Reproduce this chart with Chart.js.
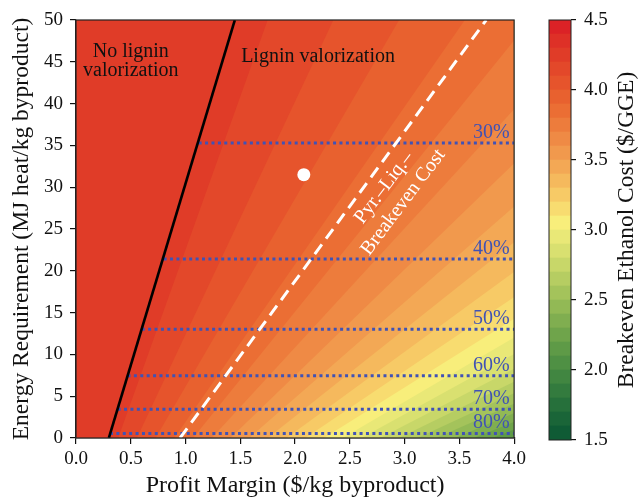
<!DOCTYPE html>
<html><head><meta charset="utf-8">
<script src="https://cdn.jsdelivr.net/npm/chart.js@4.4.1/dist/chart.umd.min.js"></script>
<style>
html,body{margin:0;padding:0;background:#fff;}
#wrap{position:relative;width:639px;height:500px;overflow:hidden;}
#main{position:absolute;left:0;top:0;}
#cbar{position:absolute;left:530px;top:0;}
</style></head><body>
<div id="wrap">
<canvas id="main" width="530" height="500"></canvas>
<canvas id="cbar" width="109" height="500"></canvas>
</div>
<script>
// ---------- data ----------
const xTicks = [0, 0.5, 1, 1.5, 2, 2.5, 3, 3.5, 4];
const xTickLabels = ['0.0','0.5','1.0','1.5','2.0','2.5','3.0','3.5','4.0'];
const yTicks = [0, 5, 10, 15, 20, 25, 30, 35, 40, 45, 50];
const yTickLabels = ['0','5','10','15','20','25','30','35','40','45','50'];
const cbarTicks = [1.5, 2.0, 2.5, 3.0, 3.5, 4.0, 4.5];
const cbarTickLabels = ['1.5','2.0','2.5','3.0','3.5','4.0','4.5'];

// colour levels of the filled contour plot ($/GGE)
const colorLevels = [1.5,1.6,1.7,1.8,1.9,2.0,2.1,2.2,2.3,2.4,2.5,2.6,2.7,2.8,2.9,3.0,3.1,3.2,3.3,3.4,3.5,3.6,3.7,3.8,3.9,4.0,4.1,4.2,4.3,4.4,4.5];
const bandColors = ['#0f5b35','#1a6538','#26703b','#337b3e','#418641','#4f9044','#5e9a47','#6fa44b','#80ae50','#92b955',
                    '#a4c35b','#b6cd62','#c8d769','#d9e070','#e9e877','#f8ee7b','#f8dc70','#f7ca66','#f5b95d','#f3a855',
                    '#f1994d','#ef8a45','#ed7c3c','#eb6e34','#e8612f','#e6542c','#e3482a','#e03c28','#de3027','#db2226'];
// contour lines present in the plot: level and the x where each (straight) line reaches y = 50
const contourLevels = [2.0,2.1,2.2,2.3,2.4,2.5,2.6,2.7,2.8,2.9,3.0,3.1,3.2,3.3,3.4,3.5,3.6,3.7,3.8,3.9,4.0,4.1,4.2];
const contourTopX   = [14.95,14.35,13.75,13.15,12.55,11.95,11.35,10.75,10.15,9.55,8.95,8.35,7.75,7.15,6.55,5.95,5.35,4.75,4.15,3.55,2.95,2.35,1.75];
const contourTopY = 50;
const fanOrigin = [-0.158, -19.9];   // common point of all contour lines (below the axes)

const boundaryX = [0.30, 1.45], boundaryY = [0, 50];    // lignin valorization boundary
const pyrX = [0.95, 3.745], pyrY = [0, 50];              // pyrolysis-liquid breakeven cost
const pctLabels = ['30%','40%','50%','60%','70%','80%'];
const pctY      = [35.3, 21.4, 13.0, 7.45, 3.45, 0.55];
const pctStartX = [1.12, 0.80, 0.60, 0.47, 0.38, 0.31];
const pctEndX   = 4.0;
const refPoint  = [2.08, 31.5];

// ---------- styling ----------
const SERIF = 'Liberation Serif';
const INK = '#111';
const BLUE = '#4052b5';

const datasets = [];
contourLevels.forEach((lv, i) => {
  const band = Math.round((lv - colorLevels[0]) * 10);
  datasets.push({
    data: [{x: fanOrigin[0], y: fanOrigin[1]}, {x: contourTopX[i], y: contourTopY}],
    fill: 'end', backgroundColor: bandColors[band], borderColor: 'rgba(0,0,0,0)', borderWidth: 1,
    pointRadius: 0, order: 1000 - i
  });
});
pctLabels.forEach((lab, i) => {
  datasets.push({
    data: [{x: pctStartX[i], y: pctY[i]}, {x: pctEndX, y: pctY[i]}],
    borderColor: BLUE, borderWidth: 3, borderDash: [3, 3.4], fill: false, pointRadius: 0, order: 20
  });
});
datasets.push({
  data: boundaryX.map((x, i) => ({x, y: boundaryY[i]})),
  borderColor: '#000', borderWidth: 2.6, fill: false, pointRadius: 0, order: 10
});
datasets.push({
  data: pyrX.map((x, i) => ({x, y: pyrY[i]})),
  borderColor: '#fff', borderWidth: 3, borderDash: [12, 7], fill: false, pointRadius: 0, order: 9
});
datasets.push({
  data: [{x: refPoint[0], y: refPoint[1]}],
  showLine: false, pointRadius: 6.5, pointBackgroundColor: '#fff', pointBorderWidth: 0, order: 1
});

const framePlugin = {
  id: 'frame',
  afterDraw(chart) {
    const {ctx, chartArea: a} = chart;
    ctx.save();
    ctx.strokeStyle = '#222'; ctx.lineWidth = 1.2;
    ctx.strokeRect(a.left, a.top, a.right - a.left, a.bottom - a.top);
    ctx.restore();
  }
};

const textPlugin = {
  id: 'texts',
  afterDatasetsDraw(chart) {
    const {ctx, scales: {x, y}} = chart;
    ctx.save();
    ctx.font = '20px "' + SERIF + '"';
    ctx.fillStyle = INK;
    ctx.textAlign = 'center'; ctx.textBaseline = 'alphabetic';
    ctx.fillText('No lignin', x.getPixelForValue(0.5), y.getPixelForValue(45.6));
    ctx.fillText('valorization', x.getPixelForValue(0.5), y.getPixelForValue(43.3));
    ctx.fillText('Lignin valorization', x.getPixelForValue(2.21), y.getPixelForValue(45.0));
    // percent labels
    ctx.fillStyle = BLUE; ctx.textAlign = 'right';
    pctLabels.forEach((lab, i) => {
      ctx.fillText(lab, x.getPixelForValue(3.96), y.getPixelForValue(pctY[i]) - 5);
    });
    // rotated label along dashed line
    ctx.save();
    ctx.translate(x.getPixelForValue(2.9), y.getPixelForValue(29.07));
    ctx.rotate(-53 * Math.PI / 180);
    ctx.fillStyle = '#fff'; ctx.textAlign = 'center'; ctx.textBaseline = 'middle';
    ctx.fillText('Pyr.\u2013Liq.\u2013', 0, -12);
    ctx.fillText('Breakeven Cost', 0, 12);
    ctx.restore();
    ctx.restore();
  }
};

new Chart(document.getElementById('main'), {
  type: 'line',
  data: {datasets},
  options: {
    responsive: false, animation: false,
    layout: {padding: {top: 20, right: 14, left: 0, bottom: 0}},
    plugins: {legend: {display: false}, tooltip: {enabled: false}},
    elements: {line: {tension: 0}},
    scales: {
      x: {
        type: 'linear', min: 0, max: 4,
        afterBuildTicks: s => { s.ticks = xTicks.map(v => ({value: v})); },
        afterFit: s => { s.height = 62; },
        ticks: {callback: (v, i) => xTickLabels[i], font: {family: SERIF, size: 19}, color: INK, padding: 4, maxRotation: 0, autoSkip: false},
        grid: {display: true, drawOnChartArea: false, drawTicks: true, tickLength: 6, color: INK, lineWidth: 1.2},
        border: {display: true, color: '#222', width: 1.2},
        title: {display: true, text: 'Profit Margin ($/kg byproduct)', font: {family: SERIF, size: 24}, color: INK, padding: {top: 0, bottom: 0}}
      },
      y: {
        type: 'linear', min: 0, max: 50,
        afterBuildTicks: s => { s.ticks = yTicks.map(v => ({value: v})); },
        afterFit: s => { s.width = 76; },
        ticks: {callback: (v, i) => yTickLabels[i], font: {family: SERIF, size: 19}, color: INK, padding: 7, autoSkip: false},
        grid: {display: true, drawOnChartArea: false, drawTicks: true, tickLength: 6, color: INK, lineWidth: 1.2},
        border: {display: true, color: '#222', width: 1.2},
        title: {display: true, text: 'Energy Requirement (MJ heat/kg byproduct)', font: {family: SERIF, size: 23.5}, color: INK, padding: {top: 8, bottom: 0}}
      }
    }
  },
  plugins: [framePlugin, textPlugin]
});

// ---------- colour bar ----------
const cbarTitlePlugin = {
  id: 'cbarTitle',
  afterDraw(chart) {
    const {ctx, chartArea: a} = chart;
    ctx.save();
    ctx.strokeStyle = '#222'; ctx.lineWidth = 1;
    ctx.strokeRect(a.left, a.top, a.right - a.left, a.bottom - a.top);
    ctx.translate(97, (a.top + a.bottom) / 2);
    ctx.rotate(-Math.PI / 2);
    ctx.font = '23.5px "' + SERIF + '"';
    ctx.fillStyle = INK; ctx.textAlign = 'center'; ctx.textBaseline = 'middle';
    ctx.fillText('Breakeven Ethanol Cost ($/GGE)', 0, 0);
    ctx.restore();
  }
};

new Chart(document.getElementById('cbar'), {
  type: 'bar',
  data: {
    labels: [''],
    datasets: bandColors.map((c, i) => ({
      data: [[colorLevels[i], colorLevels[i + 1]]],
      backgroundColor: c, borderWidth: 0, barPercentage: 1, categoryPercentage: 1, grouped: false
    }))
  },
  options: {
    responsive: false, animation: false,
    layout: {padding: {left: 19, top: 20, bottom: 60, right: 0}},
    plugins: {legend: {display: false}, tooltip: {enabled: false}},
    scales: {
      x: {display: false},
      y: {
        position: 'right', min: 1.5, max: 4.5,
        afterBuildTicks: s => { s.ticks = cbarTicks.map(v => ({value: v})); },
        afterFit: s => { s.width = 68; },
        ticks: {callback: (v, i) => cbarTickLabels[i], font: {family: SERIF, size: 19}, color: INK, padding: 8, autoSkip: false},
        grid: {display: true, drawOnChartArea: false, drawTicks: true, tickLength: 5, color: INK, lineWidth: 1.2},
        border: {display: false}
      }
    }
  },
  plugins: [cbarTitlePlugin]
});
</script>
</body></html>
